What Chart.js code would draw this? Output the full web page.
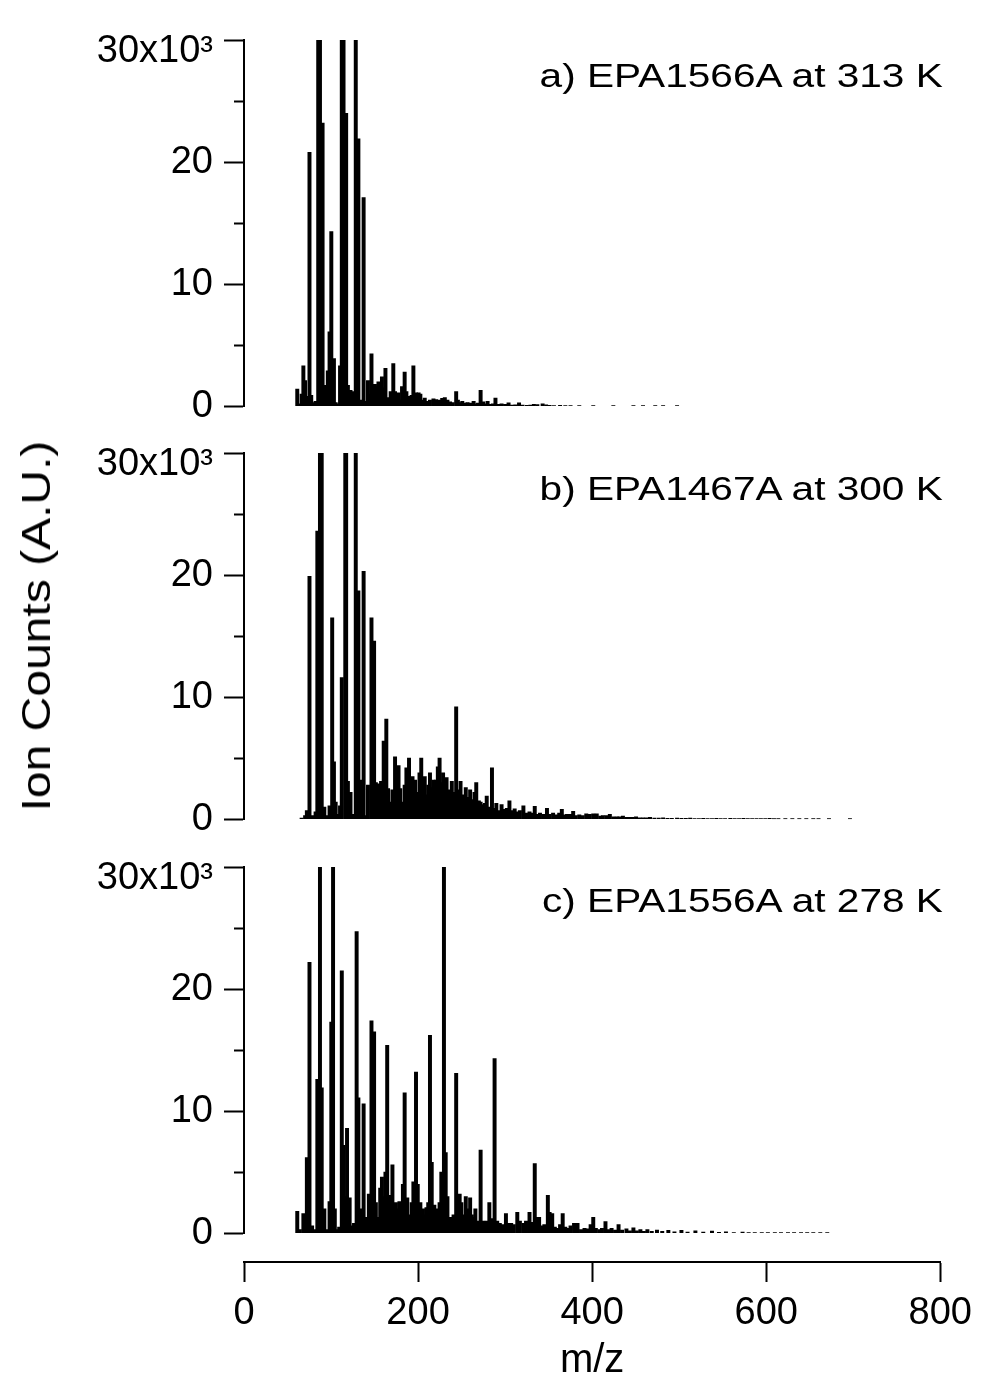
<!DOCTYPE html>
<html>
<head>
<meta charset="utf-8">
<script src="https://cdn.jsdelivr.net/npm/chart.js@4.4.1/dist/chart.umd.min.js"></script>
<style>
html,body{margin:0;padding:0;background:#fff;}
#wrap{position:relative;width:981px;height:1381px;overflow:hidden;font-family:"Liberation Sans",Arial,sans-serif;color:#000;}
.cv{position:absolute;left:0;}
.ann{position:absolute;right:38px;font-size:33px;line-height:1;white-space:nowrap;transform-origin:100% 50%;transform:translateY(-50%) scaleX(1.23);}
#ylab{position:absolute;left:36px;top:626px;font-size:40px;line-height:1;white-space:nowrap;transform:translate(-50%,-50%) rotate(-90deg) scaleX(1.2);}
</style>
</head>
<body>
<div id="wrap">
  <canvas id="cA" class="cv" width="981" height="440" style="top:0px"></canvas>
  <canvas id="cB" class="cv" width="981" height="440" style="top:413px"></canvas>
  <canvas id="cC" class="cv" width="981" height="440" style="top:827px"></canvas>
  <canvas id="cX" class="cv" width="981" height="141" style="top:1240px"></canvas>
  <div class="ann" style="top:75px">a) EPA1566A at 313 K</div>
  <div class="ann" style="top:488px">b) EPA1467A at 300 K</div>
  <div class="ann" style="top:900px">c) EPA1556A at 278 K</div>
  <div id="ylab">Ion Counts (A.U.)</div>
</div>
<script>
// ---------- data (ion counts in units of 10^3) ----------
const panelLabels = ["a) EPA1566A at 313 K", "b) EPA1467A at 300 K", "c) EPA1556A at 278 K"];
const xTicks = [0, 200, 400, 600, 800];

const mzA = [61,63,66,68,70,72,75,77,78,80,82,85,86,87,90,92,94,96,98,100,103,105,107,110,112,113,114,117,119,122,124,126,128,131,134,137,139,142,144,146,148,150,152,154,156,158,160,162,164,166,168,171,173,175,177,179,181,184,186,188,190,192,194,197,200,202,205,207,210,213,217,220,224,227,230,233,236,239,243,245,248,250,253,256,259,263,266,268,271,274,276,279,282,285,288,291,295,299,303,307,311,315,319,324,328,332,336,342,346,350,355,362,368,374,384,400,423,446,457,471,480,496];
const countsA = [1.4,0.2,1.0,3.3,2.1,0.8,20.8,0.9,0.3,0.1,0.4,31,31,31,23.2,1.7,0.2,2.9,6.1,14.3,3.9,0.3,0.2,3.3,31,31,31,24.0,1.7,1.3,1.2,0.4,31,21.9,0.5,17.1,0.4,2.1,1.0,4.3,1.5,1.8,1.6,2.0,1.4,2.4,1.5,3.1,0.2,0.7,1.2,3.5,1.2,1.0,1.1,0.5,1.6,2.8,1.2,0.8,0.7,0.9,3.3,1.1,1.1,1.0,0.5,0.67,0.4,0.5,0.6,0.55,0.5,0.65,0.7,0.5,0.35,0.3,1.2,0.5,0.3,0.4,0.25,0.3,0.25,0.4,0.2,0.25,1.3,0.35,0.2,0.4,0.15,0.2,0.67,0.15,0.2,0.15,0.27,0.1,0.12,0.27,0.1,0.08,0.1,0.15,0.13,0.2,0.12,0.08,0.06,0.07,0.05,0.06,0.04,0.04,0.04,0.04,0.04,0.04,0.04,0.04];

const mzB = [66,70,72,75,78,82,84,87,89,92,95,98,101,103,105,108,110,112,116,117,119,122,125,128,131,133,137,140,142,146,149,151,154,157,160,163,165,167,170,173,175,177,179,181,184,186,189,191,193,196,199,201,203,205,207,209,211,213,215,217,220,222,224,226,228,230,232,235,238,240,243,245,248,251,254,256,259,262,264,266,269,271,273,276,278,281,284,287,289,292,295,298,301,304,307,310,313,316,320,323,327,330,333,336,339,343,347,350,354,358,361,364,367,370,374,377,380,384,388,392,396,400,404,408,411,415,419,423,427,430,434,438,442,445,449,453,457,461,465,470,475,480,485,490,496,501,506,511,516,521,526,531,536,541,546,551,557,562,567,572,577,582,587,592,597,602,607,612,620,628,636,644,652,658,670,694];
const countsB = [0.1,0.3,0.7,19.9,0.3,0.6,23.6,31,31,1.0,0.3,1.1,16.5,4.7,1.4,0.4,1.1,11.6,31,31,3.1,2.2,0.4,31,18.7,3.2,20.3,0.3,2.8,16.5,14.6,3.0,2.9,3.1,6.4,8.2,2.5,1.4,2.4,5.1,3.0,4.4,2.5,1.4,2.8,4.2,5.0,2.8,3.5,3.2,2.2,3.8,5.0,2.6,3.5,2.0,2.8,3.8,2.6,3.2,3.2,4.3,5.0,3.0,3.8,2.5,3.4,2.4,3.1,2.2,9.2,2.4,3.1,2.0,2.6,1.8,2.4,1.6,2.2,3.0,1.5,1.4,1.2,1.3,1.9,1.0,4.2,0.9,1.3,0.7,1.2,0.8,0.9,1.5,0.7,0.85,0.6,0.7,1.1,0.5,0.6,0.5,1.05,0.4,0.5,0.4,0.9,0.4,0.5,0.35,0.5,0.8,0.35,0.4,0.4,0.65,0.3,0.35,0.3,0.45,0.4,0.45,0.45,0.25,0.3,0.3,0.4,0.2,0.2,0.2,0.25,0.15,0.15,0.15,0.2,0.12,0.12,0.12,0.16,0.1,0.1,0.12,0.08,0.08,0.1,0.07,0.07,0.1,0.06,0.06,0.08,0.06,0.06,0.08,0.05,0.05,0.07,0.05,0.05,0.07,0.05,0.05,0.06,0.04,0.04,0.08,0.03,0.03,0.03,0.03,0.03,0.03,0.03,0.03,0.03,0.03];

const mzC = [61,64,68,70,72,75,78,81,84,85,87,89,92,95,98,100,102,104,107,109,112,114,116,118,121,124,126,129,131,133,135,137,140,143,146,149,151,153,156,158,160,162,164,167,170,172,174,176,178,180,182,184,187,190,192,194,197,199,202,205,207,209,211,213,215,218,220,222,224,226,229,231,233,236,238,240,243,245,247,249,251,254,256,259,261,263,265,268,271,274,276,278,281,284,287,290,293,296,300,303,306,309,313,316,320,323,327,330,333,335,338,341,344,348,350,353,356,359,362,365,368,371,374,378,382,386,390,393,397,400,403,407,410,414,417,421,425,429,433,438,442,446,450,454,458,462,467,473,479,486,493,501,508,517,526,536,544,552,561,571,578,585,593,600,608,615,623,630,638,645,652,660,668];
const countsC = [1.8,0.3,1.6,0.5,6.2,22.2,0.6,0.3,12.6,12.6,31,11.9,2.0,0.3,2.6,17.3,31,2.0,0.3,0.5,21.5,7.2,3.0,8.6,2.9,0.6,0.8,24.7,11.1,1.5,2.0,10.6,1.3,3.2,17.4,16.5,2.5,1.3,3.7,4.6,3.0,5.0,15.4,3.1,5.6,2.0,2.5,2.0,2.6,2.5,4.0,11.5,2.9,1.5,2.5,4.2,13.2,4.0,2.5,2.0,1.5,2.1,2.5,16.2,5.8,2.3,1.5,2.0,2.5,5.0,31,6.6,3.0,1.3,1.0,1.5,13.1,2.5,3.2,2.5,1.5,3.0,2.0,2.9,1.5,1.3,2.0,1.0,6.8,1.0,0.8,1.0,2.5,1.2,14.3,1.0,0.8,0.7,1.6,0.8,0.8,0.7,1.7,1.0,0.8,1.0,1.7,0.9,5.7,1.3,1.3,0.6,0.7,3.1,1.7,1.6,0.5,0.4,0.7,1.6,0.5,0.4,0.6,0.8,0.8,0.3,0.4,0.35,0.7,1.3,0.4,0.3,0.4,0.95,0.3,0.4,0.25,0.7,0.25,0.35,0.2,0.43,0.2,0.3,0.15,0.3,0.15,0.25,0.15,0.24,0.12,0.24,0.1,0.2,0.1,0.18,0.08,0.12,0.06,0.1,0.05,0.05,0.04,0.04,0.04,0.04,0.04,0.04,0.04,0.04,0.04,0.04,0.04];

// ---------- drawing ----------
const FONT = '"Liberation Sans", Arial, sans-serif';
const TICK_SIZE = 38;
const isMinor = c => c.tick && Math.abs(c.tick.value % 10) > 1e-9;

function panel(id, mz, counts) {
  const pts = mz.map((m, i) => ({x: m, y: counts[i]}));
  return new Chart(document.getElementById(id), {
    type: 'bar',
    data: {datasets: [{data: pts, backgroundColor: '#000', borderWidth: 0, barThickness: 3.3, clip: 0}]},
    options: {
      responsive: false, animation: false, events: [],
      layout: {padding: {top: 40, bottom: 24, left: 0, right: 38.5}},
      plugins: {legend: {display: false}, tooltip: {enabled: false}, title: {display: false}},
      scales: {
        x: {type: 'linear', min: 0, max: 800, offset: false, display: false, grid: {offset: false}},
        y: {
          type: 'linear', min: 0, max: 30, position: 'left',
          afterFit(s) { s.width = 244; },
          border: {display: true, color: '#000', width: 2},
          grid: {
            drawOnChartArea: false, drawTicks: true, tickLength: 20, tickColor: '#000', tickWidth: 2,
            tickBorderDash: c => isMinor(c) ? [10, 10] : [],
            tickBorderDashOffset: c => isMinor(c) ? 10 : 0
          },
          ticks: {
            stepSize: 5, padding: 11, color: '#000',
            font: c => ({family: FONT, size: TICK_SIZE, lineHeight: (c.tick && c.tick.value === 30) ? 0.6 : 1.2}),
            callback: v => v === 30 ? ['', '30x10\u00B3'] : (v % 10 === 0 ? String(v) : '')
          }
        }
      }
    }
  });
}

panel('cA', mzA, countsA);
panel('cB', mzB, countsB);
panel('cC', mzC, countsC);

new Chart(document.getElementById('cX'), {
  type: 'line',
  data: {datasets: []},
  options: {
    responsive: false, animation: false, events: [],
    layout: {padding: {top: 0, bottom: 0, left: 244, right: 38.5}},
    plugins: {legend: {display: false}, tooltip: {enabled: false}},
    scales: {
      x: {
        type: 'linear', min: 0, max: 800, position: 'bottom', offset: false,
        afterFit(s) { s.height = 119; },
        afterBuildTicks(s) { s.ticks = xTicks.map(v => ({value: v})); },
        border: {display: true, color: '#000', width: 2},
        grid: {drawOnChartArea: false, drawTicks: true, tickLength: 20, tickColor: '#000', tickWidth: 2},
        ticks: {padding: 9, color: '#000', font: {family: FONT, size: TICK_SIZE}, maxRotation: 0, autoSkip: false},
        title: {display: true, text: 'm/z', color: '#000', font: {family: FONT, size: 40, lineHeight: 1.0}, padding: {top: 0, bottom: 0}}
      },
      y: {display: false, min: 0, max: 1}
    }
  }
});
</script>
</body>
</html>
